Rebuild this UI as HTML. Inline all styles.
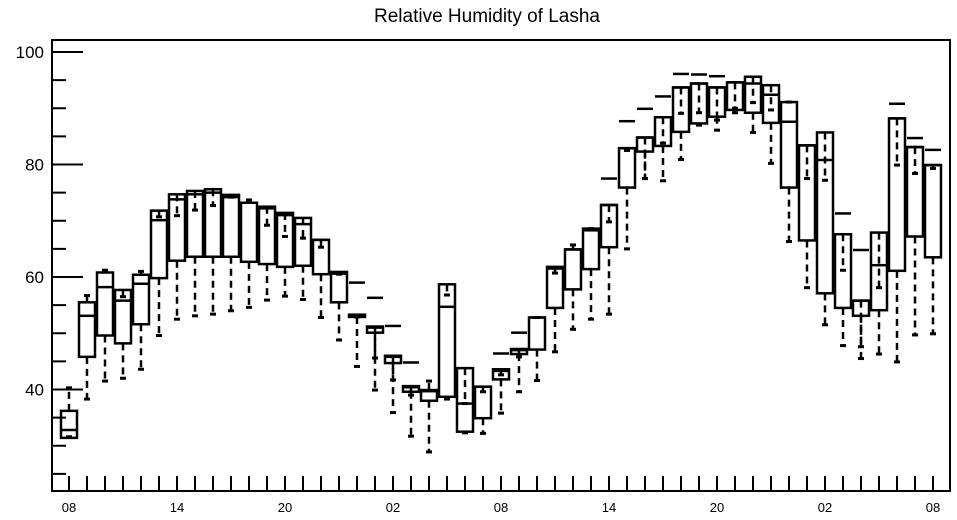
<!DOCTYPE html>
<html><head><meta charset="utf-8"><style>
html,body{margin:0;padding:0;background:#fff;}
svg{display:block;font-family:"Liberation Sans",sans-serif;}
</style></head><body>
<svg id="chart" width="957" height="520" viewBox="0 0 957 520" xmlns="http://www.w3.org/2000/svg">
<text x="487" y="22" font-size="19" text-anchor="middle">Relative Humidity of Lasha</text>
<g id="marks"></g>
<rect x="52" y="40" width="898" height="451" fill="none" stroke="#000" stroke-width="2"/>
</svg>
<script>
const hours = ["08","09","10","11","12","13","14","15","16","17","18","19","20","21","22","23","00","01","02","03","04","05","06","07","08","09","10","11","12","13","14","15","16","17","18","19","20","21","22","23","00","01","02","03","04","05","06","07","08"];
const boxTop = [36.2,55.5,60.8,57.7,60.4,71.8,74.7,75.3,75.6,74.6,73.2,72.5,71.4,70.5,66.6,60.9,53.3,51.2,46.0,40.6,39.9,58.7,43.8,40.5,43.6,47.2,52.8,61.8,64.9,68.6,72.8,82.9,84.8,88.4,93.7,94.4,93.7,94.6,95.6,94.1,91.1,83.4,85.7,67.6,55.8,67.9,88.2,83.1,79.9];
const boxMed = [32.8,53.1,58.2,55.8,58.8,70.1,73.8,74.7,75.0,74.2,73.2,72.2,71.0,69.4,66.6,60.6,53.1,51.0,45.8,40.4,39.7,54.7,37.5,40.5,43.3,47.0,52.8,61.5,64.9,68.3,72.8,82.9,84.8,88.4,93.7,94.4,93.7,94.6,94.4,92.4,87.6,83.4,80.8,67.6,55.8,62.1,88.2,83.1,79.9];
const boxBot = [31.4,45.8,49.6,48.2,51.6,59.8,62.9,63.6,63.6,63.6,62.7,62.3,61.8,62.0,60.5,55.5,52.9,50.1,44.7,39.6,38.0,38.7,32.5,34.9,41.8,46.3,47.1,54.5,57.8,61.4,65.3,75.9,82.3,83.3,85.8,87.3,88.5,89.7,89.2,87.4,75.9,66.5,57.1,54.5,53.1,54.1,61.1,67.2,63.5];
const whiskHi = [40.3,56.7,61.2,56.5,61.0,70.7,70.9,71.9,72.7,74.2,73.7,69.2,67.2,66.9,65.3,60.5,52.9,45.6,41.7,39.0,41.5,56.8,37.5,39.6,42.6,45.8,52.8,60.7,65.7,68.6,69.8,82.5,77.5,83.8,89.1,89.2,87.9,90.0,91.0,89.7,91.1,77.5,77.2,61.2,47.6,58.1,79.9,78.4,79.3];
const whiskLo = [31.6,38.3,41.5,42.0,43.6,49.6,52.5,53.1,53.4,54.0,54.6,55.9,56.6,56.0,52.8,48.8,44.1,39.9,35.9,31.7,28.9,38.3,32.3,32.2,35.8,39.6,41.6,46.7,50.7,52.5,53.4,65.0,77.5,77.1,80.9,87.0,86.1,89.2,85.7,80.2,66.3,58.1,51.5,47.8,45.5,46.3,44.9,49.7,49.9];
const extraDash = [null,null,null,null,null,null,null,null,null,null,null,null,null,null,null,null,59.0,56.3,51.3,44.8,null,null,null,null,46.4,50.1,null,null,null,null,77.5,87.7,89.9,92.1,96.1,96.0,95.7,null,null,null,null,null,null,71.3,64.8,null,90.8,84.7,82.6];
const yTicks = [100,80,60,40];
const yMinor = [95,90,85,75,70,65,55,50,45,35,30,25];

const NS="http://www.w3.org/2000/svg";
const g=document.getElementById('marks');
const X=i=>69+18*i;
const Y=v=>52+(100-v)*5.625;
function mk(tag,a){const e=document.createElementNS(NS,tag);for(const k in a)e.setAttribute(k,a[k]);g.appendChild(e);return e;}
function ln(x1,y1,x2,y2,w,dash){const e=mk('line',{x1:x1,y1:y1,x2:x2,y2:y2,stroke:'#000','stroke-width':w});if(dash)e.setAttribute('stroke-dasharray',dash);return e;}

yTicks.forEach(v=>{
  const t=ln(52,Y(v),83,Y(v),2);
  
  
  const l=mk('text',{x:44,y:Y(v)+6,'font-size':17,'text-anchor':'end'});
  l.textContent=v;
  
  
});
yMinor.forEach(v=>{
  const t=ln(52,Y(v),66,Y(v),2);
  
  
});
hours.forEach((h,i)=>{
  const t=ln(X(i),491,X(i),476,2);
  
  
  if(i%6===0){
    const l=mk('text',{x:X(i),y:512,'font-size':13,'text-anchor':'middle'});
    l.textContent=h;
    
    
  }
});
hours.forEach((h,i)=>{
  const x=X(i), yt=Y(boxTop[i]), yb=Y(boxBot[i]);
  const wu=ln(x,yt,x,Y(whiskHi[i]),2.5,'7,5');
  
  
  const cu=ln(x-3,Y(whiskHi[i]),x+3,Y(whiskHi[i]),3);
  
  
  const wl=ln(x,yb,x,Y(whiskLo[i]),2.5,'7,5');
  
  
  const cl=ln(x-3,Y(whiskLo[i]),x+3,Y(whiskLo[i]),3);
  
  
  const b=mk('rect',{x:x-8,y:yt,width:16,height:Math.max(1,yb-yt),fill:'none',stroke:'#000','stroke-width':2.5});
  
  
  const m=ln(x-8,Y(boxMed[i]),x+8,Y(boxMed[i]),2.5);
  
  
  if(extraDash[i]!==null){
    const d=ln(x-8,Y(extraDash[i]),x+8,Y(extraDash[i]),2.5);
    
    
  }
});
</script>
</body></html>
